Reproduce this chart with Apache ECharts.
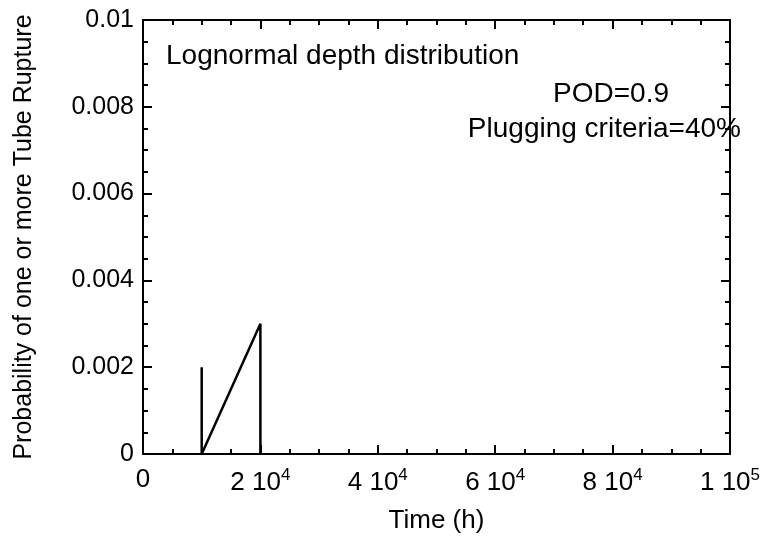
<!DOCTYPE html>
<html>
<head>
<meta charset="utf-8">
<script src="https://cdn.jsdelivr.net/npm/echarts@6/dist/echarts.min.js"></script>
<style>html,body{margin:0;padding:0;background:#fff}#c{width:763px;height:544px}</style>
</head>
<body>
<div id="c"></div>
<script>
// Data
var timeH = [10000, 10000, 20000, 20000];
var probability = [0.002, 0, 0.003, 0];
var xTickValues = [0, 20000, 40000, 60000, 80000, 100000];
var xTickLabels = ['0', '2 10^4', '4 10^4', '6 10^4', '8 10^4', '1 10^5'];
var yTickValues = [0, 0.002, 0.004, 0.006, 0.008, 0.01];
var yTickLabels = ['0', '0.002', '0.004', '0.006', '0.008', '0.01'];
var annotations = ['Lognormal depth distribution', 'POD=0.9', 'Plugging criteria=40%'];
var xTitle = 'Time (h)';
var yTitle = 'Probability of one or more Tube Rupture';

var FONT = 'Liberation Sans, Arial, Helvetica, sans-serif';

function xFmt(v) {
  var i = xTickValues.indexOf(v);
  if (i < 0) return '';
  var s = xTickLabels[i];
  var p = s.split('^');
  if (p.length === 1) return '{b|' + s + '}';
  return '{b|' + p[0] + '}{sup|' + p[1] + '}';
}
function yFmt(v) {
  for (var i = 0; i < yTickValues.length; i++) {
    if (Math.abs(yTickValues[i] - v) < 1e-9) return yTickLabels[i];
  }
  return '';
}

var lineStyle = {color: '#000', width: 2};
var tick = {show: true, inside: true, length: 9, lineStyle: {color: '#000', width: 2}};
var minor = {show: true, splitNumber: 4, length: 5, lineStyle: {color: '#000', width: 2}};

var chart = echarts.init(document.getElementById('c'), null, {renderer: 'canvas'});
chart.setOption({
  backgroundColor: '#fff',
  animation: false,
  grid: {left: 143, right: 27, top: 20, bottom: 90},
  xAxis: [{
    type: 'value', min: 0, max: 100000, interval: 20000,
    axisLine: {show: true, onZero: false, lineStyle: lineStyle},
    axisTick: tick, minorTick: minor, splitLine: {show: false},
    axisLabel: {
      margin: 13, formatter: xFmt,
      rich: {
        b: {fontFamily: FONT, fontSize: 26, color: '#000'},
        sup: {fontFamily: FONT, fontSize: 17, color: '#000', verticalAlign: 'top', padding: [0, 0, 14, 0]}
      }
    },
    name: xTitle, nameLocation: 'middle', nameGap: 54,
    nameTextStyle: {fontFamily: FONT, fontSize: 26, color: '#000'}
  }, {
    type: 'value', position: 'top', min: 0, max: 100000, interval: 20000,
    axisLine: {show: true, onZero: false, lineStyle: lineStyle},
    axisTick: tick, minorTick: minor, splitLine: {show: false},
    axisLabel: {show: false}
  }],
  yAxis: [{
    type: 'value', min: 0, max: 0.01, interval: 0.002,
    axisLine: {show: true, onZero: false, lineStyle: lineStyle},
    axisTick: tick, minorTick: minor, splitLine: {show: false},
    axisLabel: {margin: 9, formatter: yFmt, fontFamily: FONT, fontSize: 25, color: '#000'},
    name: yTitle, nameLocation: 'middle', nameGap: 106, nameRotate: 90,
    nameTextStyle: {fontFamily: FONT, fontSize: 25, color: '#000'}
  }, {
    type: 'value', position: 'right', min: 0, max: 0.01, interval: 0.002,
    axisLine: {show: true, onZero: false, lineStyle: lineStyle},
    axisTick: tick, minorTick: minor, splitLine: {show: false},
    axisLabel: {show: false}
  }],
  series: [{
    type: 'line',
    data: timeH.map(function (t, i) { return [t, probability[i]]; }),
    showSymbol: false, symbol: 'none',
    lineStyle: {color: '#000', width: 2.5},
    z: 5
  }],
  graphic: [
    {type: 'text', left: 166, top: 42, style: {text: annotations[0], font: '28px ' + FONT, fill: '#000'}},
    {type: 'text', right: 94, top: 80, style: {text: annotations[1], font: '28px ' + FONT, fill: '#000'}},
    {type: 'text', right: 22, top: 115, style: {text: annotations[2], font: '28px ' + FONT, fill: '#000'}}
  ]
});
</script>
</body>
</html>
